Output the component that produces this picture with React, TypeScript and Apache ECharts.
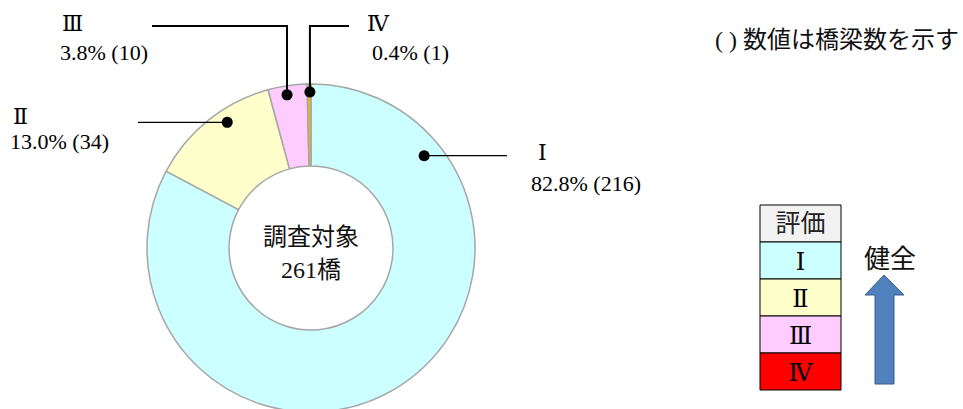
import React, { useEffect, useRef } from "react";
import * as echarts from "echarts";

// ---- data ----
const categories = ["Ⅰ", "Ⅱ", "Ⅲ", "Ⅳ"];
const bridgeCounts = [216, 34, 10, 1];
const sliceColors = ["#CCFFFF", "#FFFFCC", "#FFCCFF", "#F0B020"];
const legendColors = ["#CCFFFF", "#FFFFCC", "#FFCCFF", "#FF0000"];
const legendHeader = "評価";
const centerTitle = "調査対象";
const bridgeUnit = "橋";
const noteText = "( ) 数値は橋梁数を示す";
const arrowText = "健全";

// ---- layout ----
const W = 963;
const H = 409;
const CX = 311;
const CY = 248;
const R_IN = 82;
const R_OUT = 164;
const SERIF = "Liberation Serif, DejaVu Serif, Noto Sans CJK JP, serif";

const labelPlace = [
  { x: 531, y: 137, lh: 31, ni: 7, vi: 0, ang: 50.8, r: 146, kind: "h", end: 507, lw: 1.2 },
  { x: 10, y: 104, lh: 25, ni: 3, vi: 0, ang: -33.7, r: 151, kind: "h", end: 138, lw: 1.2 },
  { x: 60, y: 9, lh: 29, ni: 2, vi: 0, ang: -8.9, r: 155, kind: "v", end: 152, top: 26, lw: 2 },
  { x: 367, y: 9, lh: 29, ni: 0, vi: 5, ang: -0.4, r: 156, kind: "v", end: 349, top: 26, lw: 2 },
];

function anchorPoint(i: number): [number, number] {
  const p = labelPlace[i];
  const a = (p.ang * Math.PI) / 180;
  return [CX + p.r * Math.sin(a), CY - p.r * Math.cos(a)];
}

function linePoints(i: number): number[][] {
  const p = labelPlace[i];
  const [ax, ay] = anchorPoint(i);
  if (p.kind === "h") {
    return [[ax, ay], [p.end, ay]];
  }
  return [[ax, ay], [ax, p.top as number], [p.end, p.top as number]];
}

export default function App() {
  const ref = useRef<HTMLDivElement>(null);

  useEffect(() => {
    if (!ref.current) return;
    const chart = echarts.init(ref.current, undefined, { renderer: "svg" });
    const total = bridgeCounts.reduce((s, v) => s + v, 0);

    const data = categories.map((name, i) => {
      const p = labelPlace[i];
      const pct = ((bridgeCounts[i] / total) * 100).toFixed(1);
      return {
        name,
        value: bridgeCounts[i],
        itemStyle: { color: sliceColors[i] },
        label: {
          formatter: `{n|${name}}\n{v|${pct}% (${bridgeCounts[i]})}`,
          rich: {
            n: { fontFamily: SERIF, fontSize: 22, color: "#000", lineHeight: p.lh, padding: [0, 0, 0, p.ni] },
            v: { fontFamily: SERIF, fontSize: 22, color: "#000", lineHeight: p.lh, padding: [0, 0, 0, p.vi] },
          },
        },
      };
    });

    const legendGraphics: any[] = [];
    const LX = 760;
    const LY = 205;
    const LW = 81;
    const LH = 37;
    legendGraphics.push({
      type: "rect",
      shape: { x: LX, y: LY, width: LW, height: LH },
      style: { fill: "#F2F2F2", stroke: "#000", lineWidth: 1 },
    });
    legendGraphics.push({
      type: "text",
      x: LX + LW / 2,
      y: LY + LH / 2,
      style: { text: legendHeader, fontFamily: SERIF, fontSize: 25, fill: "#222", align: "center", verticalAlign: "middle" },
    });
    categories.forEach((c, i) => {
      const y = LY + LH * (i + 1);
      legendGraphics.push({
        type: "rect",
        shape: { x: LX, y, width: LW, height: LH },
        style: { fill: legendColors[i], stroke: "#000", lineWidth: 1 },
      });
      legendGraphics.push({
        type: "text",
        x: LX + LW / 2,
        y: y + LH / 2 + 1,
        style: { text: c, fontFamily: SERIF, fontSize: 24, fill: "#000", align: "center", verticalAlign: "middle" },
      });
    });

    const leaders: any[] = [];
    categories.forEach((_, i) => {
      const [x, y] = anchorPoint(i);
      leaders.push({
        type: "polyline",
        shape: { points: linePoints(i) },
        style: { stroke: "#000", lineWidth: labelPlace[i].lw, fill: null },
        z: 100,
      });
      leaders.push({ type: "circle", shape: { cx: x, cy: y, r: 5.5 }, style: { fill: "#000" }, z: 101 });
    });

    chart.setOption({
      animation: false,
      backgroundColor: "#fff",
      series: [
        {
          type: "pie",
          center: [CX, CY],
          radius: [R_IN, R_OUT],
          startAngle: 90,
          clockwise: true,
          avoidLabelOverlap: false,
          minAngle: 0,
          itemStyle: { borderColor: "#A6A6A6", borderWidth: 1.5 },
          label: { show: true, position: "outside", color: "#000" },
          labelLine: { show: false },
          labelLayout: (params: any) => {
            const p = labelPlace[params.dataIndex];
            return { x: p.x, y: p.y, align: "left", verticalAlign: "top" };
          },
          emphasis: { disabled: true },
          data,
        },
      ],
      graphic: [
        ...leaders,
        {
          type: "text",
          x: CX,
          y: CY + 5,
          style: {
            text: `${centerTitle}\n${total}${bridgeUnit}`,
            fontFamily: SERIF,
            fontSize: 24,
            lineHeight: 33,
            fill: "#111",
            align: "center",
            verticalAlign: "middle",
          },
        },
        {
          type: "text",
          x: 715,
          y: 40,
          style: { text: noteText, fontFamily: SERIF, fontSize: 24, fill: "#111", align: "left", verticalAlign: "middle" },
        },
        ...legendGraphics,
        {
          type: "text",
          x: 890,
          y: 259,
          style: { text: arrowText, fontFamily: SERIF, fontSize: 26, fill: "#111", align: "center", verticalAlign: "middle" },
        },
        {
          type: "polygon",
          shape: {
            points: [
              [884, 275],
              [904, 295],
              [894, 295],
              [894, 384],
              [875, 384],
              [875, 295],
              [865, 295],
            ],
          },
          style: { fill: "#4F81BD", stroke: "#385D8A", lineWidth: 1 },
        },
      ],
    });

    return () => chart.dispose();
  }, []);

  return (
    <div
      ref={ref}
      style={{ position: "absolute", left: 0, top: 0, width: W, height: H }}
    />
  );
}
